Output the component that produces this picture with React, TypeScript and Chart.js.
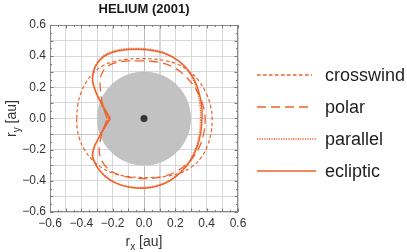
import React, { useEffect, useRef } from "react";
import { Chart, registerables } from "chart.js";

Chart.register(...registerables);

const TITLE = "HELIUM (2001)";
const AXIS_MIN = -0.6;
const AXIS_MAX = 0.6;
const GRID_STEP = 0.1;
const DISK_RADIUS = 0.3;

const LEGEND_LABELS = ["crosswind", "polar", "parallel", "ecliptic"];

const crosswindX = [-0.43, -0.422, -0.4, -0.365, -0.32, -0.26, -0.19, -0.11, -0.03, 0.05, 0.13, 0.21, 0.285, 0.35, 0.398, 0.425, 0.435, 0.428, 0.405, 0.365, 0.305, 0.23, 0.15, 0.06, -0.03, -0.12, -0.2, -0.27, -0.33, -0.38, -0.412, -0.427, -0.43];
const crosswindY = [0.0, 0.09, 0.17, 0.24, 0.295, 0.34, 0.366, 0.38, 0.384, 0.382, 0.372, 0.35, 0.305, 0.24, 0.16, 0.08, 0.0, -0.09, -0.175, -0.25, -0.31, -0.35, -0.37, -0.378, -0.378, -0.37, -0.35, -0.315, -0.265, -0.2, -0.13, -0.06, 0.0];

const polarX = [-0.235, -0.255, -0.27, -0.278, -0.28, -0.268, -0.24, -0.19, -0.12, -0.04, 0.04, 0.12, 0.2, 0.27, 0.33, 0.372, 0.39, 0.38, 0.345, 0.285, 0.21, 0.12, 0.03, -0.06, -0.15, -0.22, -0.265, -0.285, -0.282, -0.27, -0.252, -0.235];
const polarY = [0.0, 0.06, 0.12, 0.18, 0.24, 0.29, 0.33, 0.355, 0.368, 0.37, 0.368, 0.355, 0.322, 0.265, 0.19, 0.1, 0.0, -0.1, -0.2, -0.28, -0.338, -0.372, -0.385, -0.382, -0.365, -0.33, -0.28, -0.22, -0.16, -0.1, -0.05, 0.0];

const parallelX = [-0.225, -0.252, -0.278, -0.302, -0.32, -0.33, -0.325, -0.305, -0.265, -0.205, -0.13, -0.05, 0.03, 0.11, 0.185, 0.255, 0.308, 0.342, 0.358, 0.36, 0.354, 0.334, 0.296, 0.238, 0.165, 0.08, -0.01, -0.1, -0.18, -0.248, -0.298, -0.325, -0.32, -0.3, -0.276, -0.252, -0.225];
const parallelY = [0.0, 0.05, 0.1, 0.15, 0.2, 0.25, 0.3, 0.35, 0.397, 0.43, 0.446, 0.45, 0.445, 0.428, 0.392, 0.335, 0.26, 0.17, 0.08, 0.0, -0.09, -0.18, -0.262, -0.336, -0.395, -0.43, -0.442, -0.436, -0.412, -0.368, -0.31, -0.245, -0.195, -0.145, -0.095, -0.048, 0.0];

const eclipticX = [-0.215, -0.245, -0.272, -0.298, -0.318, -0.328, -0.322, -0.3, -0.26, -0.2, -0.13, -0.05, 0.03, 0.11, 0.19, 0.26, 0.315, 0.35, 0.368, 0.37, 0.362, 0.34, 0.3, 0.24, 0.165, 0.08, -0.01, -0.1, -0.18, -0.25, -0.3, -0.328, -0.322, -0.3, -0.272, -0.245, -0.215];
const eclipticY = [0.0, 0.05, 0.1, 0.15, 0.2, 0.25, 0.3, 0.35, 0.395, 0.425, 0.44, 0.445, 0.44, 0.425, 0.39, 0.335, 0.26, 0.17, 0.08, 0.0, -0.09, -0.18, -0.265, -0.34, -0.4, -0.435, -0.448, -0.44, -0.415, -0.37, -0.31, -0.245, -0.195, -0.145, -0.095, -0.048, 0.0];

const ORANGE = "#f0622a";
const FONT = '"Liberation Sans", Arial, Helvetica, sans-serif';

const STYLES = [
  { dash: [3.5, 2.5], width: 1.2 },
  { dash: [9, 5], width: 1.3 },
  { dash: [1.2, 1.2], width: 1.3 },
  { dash: [], width: 1.5 },
];

const toPoints = (xs: number[], ys: number[]) => xs.map((x, i) => ({ x, y: ys[i] }));

const near = (a: number, b: number) => Math.abs(a - b) < 1e-6;

function fmtTick(v: number) {
  const k = Math.round(v * 10);
  if (k % 2 !== 0) return "";
  const s = Math.abs(v).toFixed(1);
  return k < 0 ? "\u2212" + s : s;
}

function drawSubText(
  ctx: CanvasRenderingContext2D,
  cx: number,
  cy: number,
  base: string,
  sub: string,
  rest: string,
  size: number
) {
  const subSize = Math.round(size * 0.72);
  ctx.font = `${size}px ${FONT}`;
  const w1 = ctx.measureText(base).width;
  const w3 = ctx.measureText(rest).width;
  ctx.font = `${subSize}px ${FONT}`;
  const w2 = ctx.measureText(sub).width;
  const total = w1 + w2 + w3;
  let x = cx - total / 2;
  ctx.textAlign = "left";
  ctx.textBaseline = "alphabetic";
  ctx.font = `${size}px ${FONT}`;
  ctx.fillText(base, x, cy);
  x += w1;
  ctx.font = `${subSize}px ${FONT}`;
  ctx.fillText(sub, x, cy + size * 0.28);
  x += w2;
  ctx.font = `${size}px ${FONT}`;
  ctx.fillText(rest, x, cy);
}

const decor = {
  id: "decor",
  beforeDatasetsDraw(chart: any) {
    const { ctx, scales } = chart;
    const x = scales.x;
    const y = scales.y;
    const cx = x.getPixelForValue(0);
    const cy = y.getPixelForValue(0);
    const r = x.getPixelForValue(DISK_RADIUS) - cx;
    ctx.save();
    ctx.beginPath();
    ctx.arc(cx, cy, r, 0, Math.PI * 2);
    ctx.fillStyle = "#c2c2c2";
    ctx.fill();
    ctx.restore();
  },
  afterDraw(chart: any) {
    const { ctx, chartArea, scales } = chart;
    const xs = scales.x;
    const ys = scales.y;
    const { left, right, top, bottom } = chartArea;
    ctx.save();
    // frame
    ctx.setLineDash([]);
    ctx.strokeStyle = "#8a8a8a";
    ctx.lineWidth = 1;
    ctx.strokeRect(left + 0.5, top + 0.5, right - left - 1, bottom - top - 1);
    // minor ticks on frame
    ctx.strokeStyle = "#7a7a7a";
    ctx.beginPath();
    for (let i = 0; i <= 24; i++) {
      const v = AXIS_MIN + i * 0.05;
      const len = i % 2 === 0 ? 3.5 : 2;
      const px = Math.round(xs.getPixelForValue(v)) + 0.5;
      const py = Math.round(ys.getPixelForValue(v)) + 0.5;
      ctx.moveTo(px, bottom);
      ctx.lineTo(px, bottom - len);
      ctx.moveTo(px, top);
      ctx.lineTo(px, top + len);
      ctx.moveTo(left, py);
      ctx.lineTo(left + len, py);
      ctx.moveTo(right, py);
      ctx.lineTo(right - len, py);
    }
    ctx.stroke();

    // title
    ctx.fillStyle = "#1a1a1a";
    ctx.font = `bold 13px ${FONT}`;
    ctx.textAlign = "center";
    ctx.textBaseline = "middle";
    ctx.fillText(TITLE, (left + right) / 2, 9);

    // axis titles
    ctx.fillStyle = "#333";
    drawSubText(ctx, (left + right) / 2, 246, "r", "x", " [au]", 14);
    ctx.save();
    ctx.translate(16, (top + bottom) / 2);
    ctx.rotate(-Math.PI / 2);
    drawSubText(ctx, 0, 0, "r", "y", " [au]", 14);
    ctx.restore();

    // legend
    const rowsY = [75, 107, 139, 171];
    const lineEnds = [312, 312, 316, 316];
    LEGEND_LABELS.forEach((label, i) => {
      const st = STYLES[i];
      ctx.save();
      ctx.strokeStyle = ORANGE;
      ctx.lineWidth = Math.max(st.width, 1.4);
      ctx.setLineDash(st.dash);
      ctx.beginPath();
      ctx.moveTo(257, rowsY[i]);
      ctx.lineTo(lineEnds[i], rowsY[i]);
      ctx.stroke();
      ctx.restore();
      ctx.fillStyle = "#1e1e1e";
      ctx.font = `18px ${FONT}`;
      ctx.textAlign = "left";
      ctx.textBaseline = "middle";
      ctx.fillText(label, 325, rowsY[i] + 1);
    });
    ctx.restore();
  },
};

export default function App() {
  const ref = useRef<HTMLCanvasElement | null>(null);

  useEffect(() => {
    const canvas = ref.current;
    if (!canvas) return;
    const series = [
      toPoints(crosswindX, crosswindY),
      toPoints(polarX, polarY),
      toPoints(parallelX, parallelY),
      toPoints(eclipticX, eclipticY),
    ];
    const lineSets = LEGEND_LABELS.map((label, i) => ({
      label,
      data: series[i],
      showLine: true,
      borderColor: ORANGE,
      backgroundColor: ORANGE,
      borderWidth: STYLES[i].width,
      borderDash: STYLES[i].dash,
      pointRadius: 0,
      tension: 0.4,
      fill: false,
    }));
    const chart = new Chart(canvas, {
      type: "scatter",
      data: {
        datasets: [
          {
            label: "center",
            data: [{ x: 0, y: 0 }],
            pointRadius: 3.5,
            pointBackgroundColor: "#333",
            pointBorderWidth: 0,
            showLine: false,
          } as any,
          ...lineSets,
        ],
      },
      options: {
        responsive: false,
        animation: false,
        devicePixelRatio: 1,
        layout: { padding: { top: 25, right: 169, left: 0, bottom: 0 } },
        plugins: {
          legend: { display: false },
          title: { display: false },
          tooltip: { enabled: false },
        },
        scales: {
          x: {
            type: "linear",
            min: AXIS_MIN,
            max: AXIS_MAX,
            afterFit: (s: any) => {
              s.height = 40;
            },
            border: { display: false },
            grid: {
              drawTicks: false,
              color: (c: any) => {
                const v = c.tick ? c.tick.value : 999;
                if (near(v, 0)) return "#bcbcbc";
                if (near(v, 0.1)) return "#dadada";
                return "#d8d8d8";
              },
              lineWidth: (c: any) => (c.tick && near(c.tick.value, 0.1) ? 2 : 1),
            },
            ticks: {
              stepSize: GRID_STEP,
              autoSkip: false,
              maxRotation: 0,
              padding: 4,
              color: "#333",
              font: { family: FONT, size: 12 },
              callback: (v: any) => fmtTick(Number(v)),
            },
          },
          y: {
            type: "linear",
            min: AXIS_MIN,
            max: AXIS_MAX,
            afterFit: (s: any) => {
              s.width = 50;
            },
            border: { display: false },
            grid: {
              drawTicks: false,
              color: (c: any) => {
                const v = c.tick ? c.tick.value : 999;
                if (near(v, -0.1)) return "#c6c6c6";
                return "#d8d8d8";
              },
              lineWidth: 1,
            },
            ticks: {
              stepSize: GRID_STEP,
              autoSkip: false,
              padding: 4,
              color: "#333",
              font: { family: FONT, size: 12 },
              callback: (v: any) => fmtTick(Number(v)),
            },
          },
        },
      },
      plugins: [decor],
    } as any);
    return () => chart.destroy();
  }, []);

  return (
    <div style={{ position: "fixed", left: 0, top: 0, width: 407, height: 252, background: "#fff" }}>
      <canvas ref={ref} width={407} height={252} style={{ display: "block" }} />
    </div>
  );
}
